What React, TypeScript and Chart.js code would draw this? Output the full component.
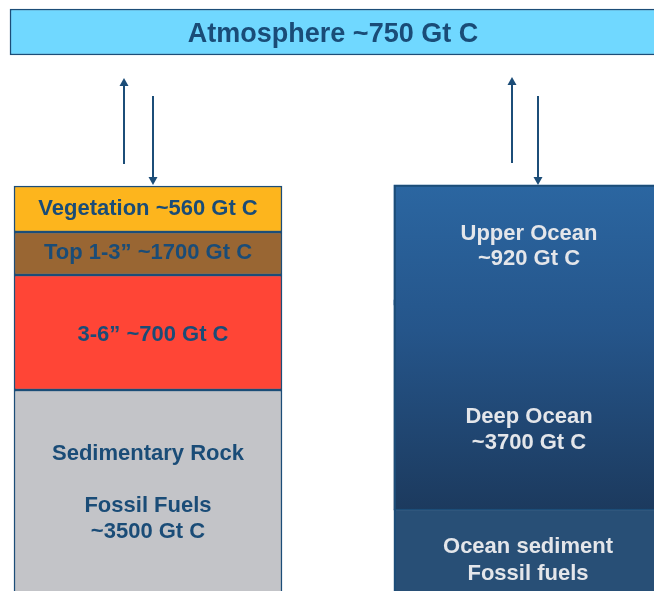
import React, { useEffect, useRef } from "react";
import { Chart, registerables } from "chart.js";

Chart.register(...registerables);

// ---- data ----
const RESERVOIRS = [
  "Atmosphere",
  "Vegetation",
  "Top 1-3\u201d",
  "3-6\u201d",
  "Sedimentary Rock",
  "Upper Ocean",
  "Deep Ocean",
  "Ocean sediment",
];
const CARBON_GT = [750, 560, 1700, 700, 3500, 920, 3700, null];
const UNIT = "Gt C";

// ---- layout (canvas-pixel units on hidden linear axes) ----
const W = 654;
const H = 591;
// box [left, right, top, bottom]
const BOXES: number[][] = [
  [10, 657, 9, 55], // atmosphere
  [14, 282, 186, 232], // vegetation
  [14, 282, 232, 275], // top soil
  [14, 282, 275, 390], // 3-6"
  [14, 282, 390, 600], // sedimentary
  [394, 664, 185, 305], // upper ocean (gradient part)
  [394, 664, 300, 510], // deep ocean (gradient part)
  [394, 664, 509, 600], // sediment
];
const FILLS = ["#70d8ff", "#fdb51d", "#996633", "#ff4536", "#c3c4c8", "grad", "grad", "#284f76"];
const BORDER = "#1c4d78";
const DARK_TEXT = "#1a4c77";
const LIGHT_TEXT = "#e4e6ea";

// arrows: [x, yFrom, yTo]
const ARROWS: number[][] = [
  [124, 164, 78],
  [153, 96, 185],
  [512, 163, 77],
  [538, 96, 185],
];

const fmt = (v: number | null) => (v == null ? "" : `~${v} ${UNIT}`);

// labels: [text, x, y, size, color]
const LABELS: [string, number, number, number, string][] = [
  [`${RESERVOIRS[0]} ${fmt(CARBON_GT[0])}`, 333, 34.5, 27, DARK_TEXT],
  [`${RESERVOIRS[1]} ${fmt(CARBON_GT[1])}`, 148, 208.5, 22, DARK_TEXT],
  [`${RESERVOIRS[2]} ${fmt(CARBON_GT[2])}`, 148, 252.5, 22, DARK_TEXT],
  [`${RESERVOIRS[3]} ${fmt(CARBON_GT[3])}`, 153, 334.5, 22, DARK_TEXT],
  [RESERVOIRS[4], 148, 453.5, 22, DARK_TEXT],
  ["Fossil Fuels", 148, 505.5, 22, DARK_TEXT],
  [fmt(CARBON_GT[4]), 148, 531.5, 22, DARK_TEXT],
  [RESERVOIRS[5], 529, 233.5, 22, LIGHT_TEXT],
  [fmt(CARBON_GT[5]), 529, 258.5, 22, LIGHT_TEXT],
  [RESERVOIRS[6], 529, 416.5, 22, LIGHT_TEXT],
  [fmt(CARBON_GT[6]), 529, 442.5, 22, LIGHT_TEXT],
  [RESERVOIRS[7], 528, 546.5, 22, LIGHT_TEXT],
  ["Fossil fuels", 528, 573.5, 22, LIGHT_TEXT],
];

const FONT = '"Liberation Sans", Arial, sans-serif';

const labelPlugin = {
  id: "diagramLabels",
  afterDatasetsDraw(chart: any) {
    const { ctx, scales } = chart;
    const xs = scales.x;
    const ys = scales.y;
    ctx.save();
    // arrows
    ctx.strokeStyle = BORDER;
    ctx.fillStyle = BORDER;
    ctx.lineWidth = 2;
    for (const [x, y0, y1] of ARROWS) {
      const px = xs.getPixelForValue(x);
      const p0 = ys.getPixelForValue(y0);
      const p1 = ys.getPixelForValue(y1);
      const dir = p1 > p0 ? 1 : -1;
      const head = 8;
      ctx.beginPath();
      ctx.moveTo(px, p0);
      ctx.lineTo(px, p1 - dir * head);
      ctx.stroke();
      ctx.beginPath();
      ctx.moveTo(px, p1);
      ctx.lineTo(px - 4.5, p1 - dir * head);
      ctx.lineTo(px + 4.5, p1 - dir * head);
      ctx.closePath();
      ctx.fill();
    }
    // text
    ctx.textAlign = "center";
    ctx.textBaseline = "middle";
    for (const [t, x, y, size, color] of LABELS) {
      ctx.font = `bold ${size}px ${FONT}`;
      ctx.fillStyle = color;
      ctx.fillText(t, xs.getPixelForValue(x), ys.getPixelForValue(y));
    }
    ctx.restore();
  },
};

export default function App() {
  const ref = useRef<HTMLCanvasElement | null>(null);

  useEffect(() => {
    const canvas = ref.current;
    if (!canvas) return;

    const datasets: any[] = BOXES.map((b, i) => {
      const [l, r, t, btm] = b;
      const fill = FILLS[i];
      return {
        label: RESERVOIRS[i],
        data: [{ x: (l + r) / 2, y: [t, btm] }],
        barThickness: r - l,
        grouped: false,
        borderSkipped: false,
        borderWidth: fill === "grad" ? 0 : 1.5,
        borderColor: BORDER,
        backgroundColor:
          fill === "grad"
            ? (c: any) => {
                const chart = c.chart;
                if (!chart.chartArea) return "#25558a";
                const ys = chart.scales.y;
                const g = chart.ctx.createLinearGradient(
                  0,
                  ys.getPixelForValue(185),
                  0,
                  ys.getPixelForValue(510)
                );
                g.addColorStop(0, "#2b66a1");
                g.addColorStop(0.45, "#25558a");
                g.addColorStop(1, "#1c3a5e");
                return g;
              }
            : fill,
        order: fill === "grad" ? 2 : 1,
      };
    });

    // frame around the whole ocean column
    datasets.push({
      label: "Ocean frame",
      data: [{ x: (394 + 664) / 2, y: [185, 600] }],
      barThickness: 664 - 394,
      grouped: false,
      borderSkipped: false,
      borderWidth: 1.5,
      borderColor: BORDER,
      backgroundColor: "rgba(0,0,0,0)",
      order: 0,
    });

    const chart = new Chart(canvas, {
      type: "bar",
      data: { datasets },
      options: {
        animation: false,
        responsive: false,
        devicePixelRatio: 1,
        layout: { padding: 0 },
        plugins: { legend: { display: false }, tooltip: { enabled: false } },
        scales: {
          x: { type: "linear", min: 0, max: W, offset: false, display: false },
          y: { type: "linear", min: 0, max: H, reverse: true, display: false },
        },
      },
      plugins: [labelPlugin],
    });
    return () => chart.destroy();
  }, []);

  return (
    <div style={{ position: "fixed", left: 0, top: 0, width: W, height: H, background: "#fff" }}>
      <canvas ref={ref} width={W} height={H} style={{ display: "block" }} />
    </div>
  );
}
